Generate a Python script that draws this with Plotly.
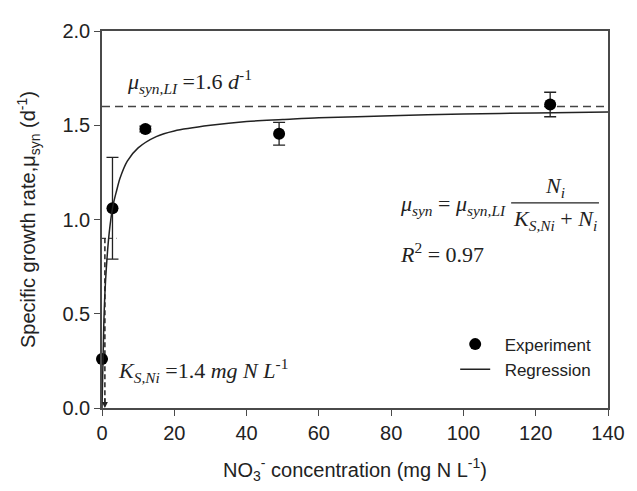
import plotly.graph_objects as go

# Experimental data
exp_x = [0.0, 2.9, 12.0, 49.0, 124.0]
exp_y = [0.26, 1.06, 1.48, 1.455, 1.61]
exp_err = [0.0, 0.27, 0.015, 0.06, 0.065]

# Regression curve
reg_x = [0, 0.5, 1, 2, 3, 4, 5, 7, 10, 15, 20, 30, 40, 50, 60, 80, 100, 120, 140]
reg_y = [0, 0.45, 0.68, 0.93, 1.07, 1.15, 1.22, 1.31, 1.38, 1.44, 1.47, 1.50, 1.52, 1.53, 1.54, 1.55, 1.56, 1.565, 1.57]

mu_max = 1.6
half_y = 0.9
ks_x = 0.8

x_ticks = [0, 20, 40, 60, 80, 100, 120, 140]
y_ticks = [0.0, 0.5, 1.0, 1.5, 2.0]

SANS = "Liberation Sans, Arial, sans-serif"
SERIF = "Liberation Serif, Times New Roman, serif"
AX = "#4a4a4a"
TXT = "#222"
NB = "\u00a0\u00a0"

fig = go.Figure()

fig.add_trace(go.Scatter(
    x=[0, 140], y=[mu_max, mu_max], mode="lines",
    line=dict(color="#444", width=1.5, dash="8px,5px"),
    showlegend=False, hoverinfo="skip"))
fig.add_trace(go.Scatter(
    x=[0, 4], y=[half_y, half_y], mode="lines",
    line=dict(color="#444", width=1.2, dash="4px,3px"),
    showlegend=False, hoverinfo="skip"))
fig.add_trace(go.Scatter(
    x=[ks_x, ks_x], y=[half_y, 0.02], mode="lines",
    line=dict(color="#222", width=1.5, dash="5px,3px"),
    showlegend=False, hoverinfo="skip"))

fig.add_trace(go.Scatter(
    x=exp_x, y=exp_y, mode="markers", name=NB + "Experiment", cliponaxis=False,
    marker=dict(color="black", size=12),
    error_y=dict(type="data", array=exp_err, visible=True,
                 color="#222", thickness=1.3, width=6)))
fig.add_trace(go.Scatter(
    x=reg_x, y=reg_y, mode="lines", name=NB + "Regression",
    line=dict(color="#222", width=1.5, shape="spline", smoothing=0.8)))

annotations = [
    dict(x=ks_x, y=0.0, ax=ks_x, ay=0.06, xref="x", yref="y", axref="x", ayref="y",
         showarrow=True, arrowhead=2, arrowsize=1, arrowwidth=1.2, arrowcolor="#222", text=""),
    dict(x=6.5, y=1.73, xref="x", yref="y", xanchor="left", yanchor="middle", showarrow=False,
         text="<i>μ<sub>syn,LI</sub></i> =1.6 <i>d</i><sup>-1</sup>",
         font=dict(family=SERIF, size=22, color=TXT)),
    dict(x=4.0, y=0.20, xref="x", yref="y", xanchor="left", yanchor="middle", showarrow=False,
         text="<i>K<sub>S,Ni</sub></i> =1.4 <i>mg N L</i><sup>-1</sup>",
         font=dict(family=SERIF, size=22, color=TXT)),
    dict(x=82.0, y=1.075, xref="x", yref="y", xanchor="left", yanchor="middle", showarrow=False,
         text="<i>μ<sub>syn</sub></i> = <i>μ<sub>syn,LI</sub></i>",
         font=dict(family=SERIF, size=22, color=TXT)),
    dict(x=125.4, y=1.17, xref="x", yref="y", xanchor="center", yanchor="middle", showarrow=False,
         text="<i>N<sub>i</sub></i>",
         font=dict(family=SERIF, size=22, color=TXT)),
    dict(x=125.4, y=0.995, xref="x", yref="y", xanchor="center", yanchor="middle", showarrow=False,
         text="<i>K<sub>S,Ni</sub></i> + <i>N<sub>i</sub></i>",
         font=dict(family=SERIF, size=22, color=TXT)),
    dict(x=82.0, y=0.82, xref="x", yref="y", xanchor="left", yanchor="middle", showarrow=False,
         text="<i>R</i><sup>2</sup> = 0.97",
         font=dict(family=SERIF, size=22, color=TXT)),
]

shapes = [
    dict(type="line", xref="x", yref="y", x0=113.2, x1=137.5, y0=1.088, y1=1.088,
         line=dict(color="#222", width=1.2)),
]

fig.update_layout(
    width=629, height=483,
    margin=dict(l=94, r=28, t=12, b=83),
    paper_bgcolor="white", plot_bgcolor="white",
    font=dict(family=SANS, size=20, color=TXT),
    showlegend=True,
    legend=dict(x=0.698, y=0.216, xanchor="left", yanchor="top",
                bgcolor="rgba(0,0,0,0)", font=dict(family=SANS, size=17, color=TXT),
                tracegroupgap=0, itemwidth=30),
    annotations=annotations,
    shapes=shapes,
    xaxis=dict(range=[0, 140], tickvals=x_ticks, ticktext=[str(v) for v in x_ticks],
               showline=True, linecolor=AX, linewidth=1.5, mirror=True,
               ticks="outside", ticklen=6, tickcolor=AX, showgrid=False, zeroline=False,
               title=dict(text="NO<sub>3</sub><sup>-</sup> concentration (mg N L<sup>-1</sup>)",
                          standoff=20, font=dict(size=20))),
    yaxis=dict(range=[0, 2.0], tickvals=y_ticks, ticktext=[f"{v:.1f}" for v in y_ticks],
               showline=True, linecolor=AX, linewidth=1.5, mirror=True,
               ticks="outside", ticklen=6, tickcolor=AX, showgrid=False, zeroline=False,
               title=dict(text="Specific growth rate,μ<sub>syn</sub> (d<sup>-1</sup>)",
                          standoff=21, font=dict(size=20))),
)

fig.write_html("out.html")
